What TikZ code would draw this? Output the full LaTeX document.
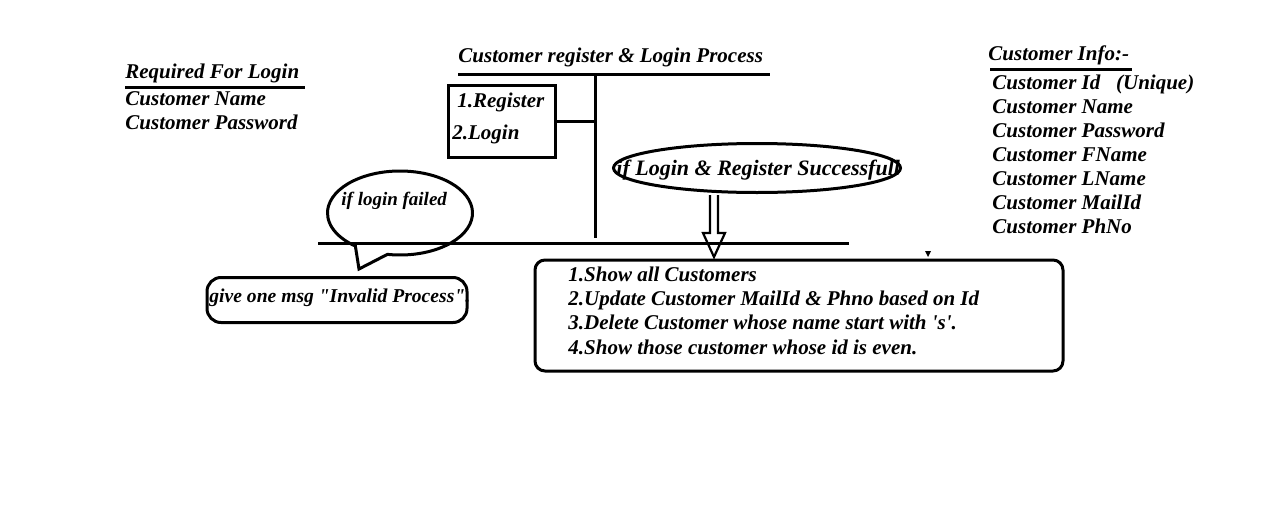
\documentclass[tikz,border=0pt]{standalone}
\usepackage{fontspec}
\setmainfont{Liberation Serif}[Ligatures=TeXOff]
\usetikzlibrary{shapes.geometric}
\begin{document}
\begin{tikzpicture}[x=0.5pt,y=-0.5pt,
        lbl/.style={font=\fontsize{10.5}{12}\selectfont\bfseries\itshape,inner sep=0pt,anchor=base west},
        thk/.style={line width=1.5pt},
        bubble/.style={draw,thk,ellipse,inner sep=0pt}]
        \useasboundingbox (0,0) rectangle (1280,514);

        % required for login
        \node[lbl] (req) at (125,78) {Required For Login};
        \draw[thk] (125,87)--(305,87);
        \node[lbl] (rname) at (125,105) {Customer Name};
        \node[lbl] (rpass) at (125,129) {Customer Password};

        % process
        \node[lbl] (title) at (458,62) {Customer register \& Login Process};
        \coordinate (ttop) at (595,74);
        \coordinate (tbot) at (595,238);
        \draw[thk] (458,74)--(770,74);
        \draw[thk] (ttop)--(tbot);
        \node[draw,thk,minimum width=53.5pt,minimum height=36pt,inner sep=0pt] (menu) at (502,121) {};
        \node[lbl] (reg) at (457,107) {1.Register};
        \node[lbl] (log) at (452,139) {2.Login};
        \draw[thk] (menu.east)--(menu.east-|ttop);

        \draw[thk] (318,243)--(849,243);

        % success
        \node[bubble,minimum width=143.5pt,minimum height=24.5pt] (succ) at (757,168) {};
        \node[lbl,font=\fontsize{11}{12}\selectfont\bfseries\itshape] (succtxt) at (616,175) {if Login \& Register Successfull};
        \coordinate (arr) at (714,195);
        \draw[line width=1.1pt] (arr) ++(-4,0)--++(0,38)--++(-7,0)--(714,257)--(725,233)--++(-7,0)--++(0,-38);
        \fill (925,251)--(931,251)--(928,257)--cycle;

        % failed
        \node[ellipse,minimum width=72.5pt,minimum height=42pt,inner sep=0pt] (fail) at (400,213) {};
        \coordinate (tail) at (359,269);
        \draw[thk,line join=miter] (fail.center) ++(100:72.5 and 42) arc[start angle=100,end angle=-232,x radius=72.5,y radius=42]--(tail)--cycle;
        \node[lbl,font=\fontsize{9.5}{11}\selectfont\bfseries\itshape] (failtxt) at (341,205) {if login failed};
        \node[draw,thk,rounded corners=7pt,minimum width=130pt,minimum height=22.5pt] (inv) at (337,300) {};
        \node[lbl,font=\fontsize{9.8}{11}\selectfont\bfseries\itshape] (invtxt) at (209,302) {give one msg "Invalid Process".};

        % operations
        \node[draw,thk,rounded corners=5pt,minimum width=264pt,minimum height=55.5pt] (ops) at (799,315.5) {};
        \node[lbl] (op1) at (568,281) {1.Show all Customers};
        \node[lbl] (op2) at (568,305) {2.Update Customer MailId \& Phno based on Id};
        \node[lbl] (op3) at (568,329) {3.Delete Customer whose name start with 's'.};
        \node[lbl] (op4) at (568,354) {4.Show those customer whose id is even.};

        % customer info
        \node[lbl] (info) at (988,61) {Customer Info:-};
        \draw[thk] (990,69)--(1132,69);
        \node[lbl] (cid) at (992,89) {Customer Id\ \ \ (Unique)};
        \node[lbl] (cname) at (992,113) {Customer Name};
        \node[lbl] (cpass) at (992,137) {Customer Password};
        \node[lbl] (cfn) at (992,161) {Customer FName};
        \node[lbl] (cln) at (992,185) {Customer LName};
        \node[lbl] (cmail) at (992,209) {Customer MailId};
        \node[lbl] (cph) at (992,233) {Customer PhNo};
    \end{tikzpicture}
\end{document}
